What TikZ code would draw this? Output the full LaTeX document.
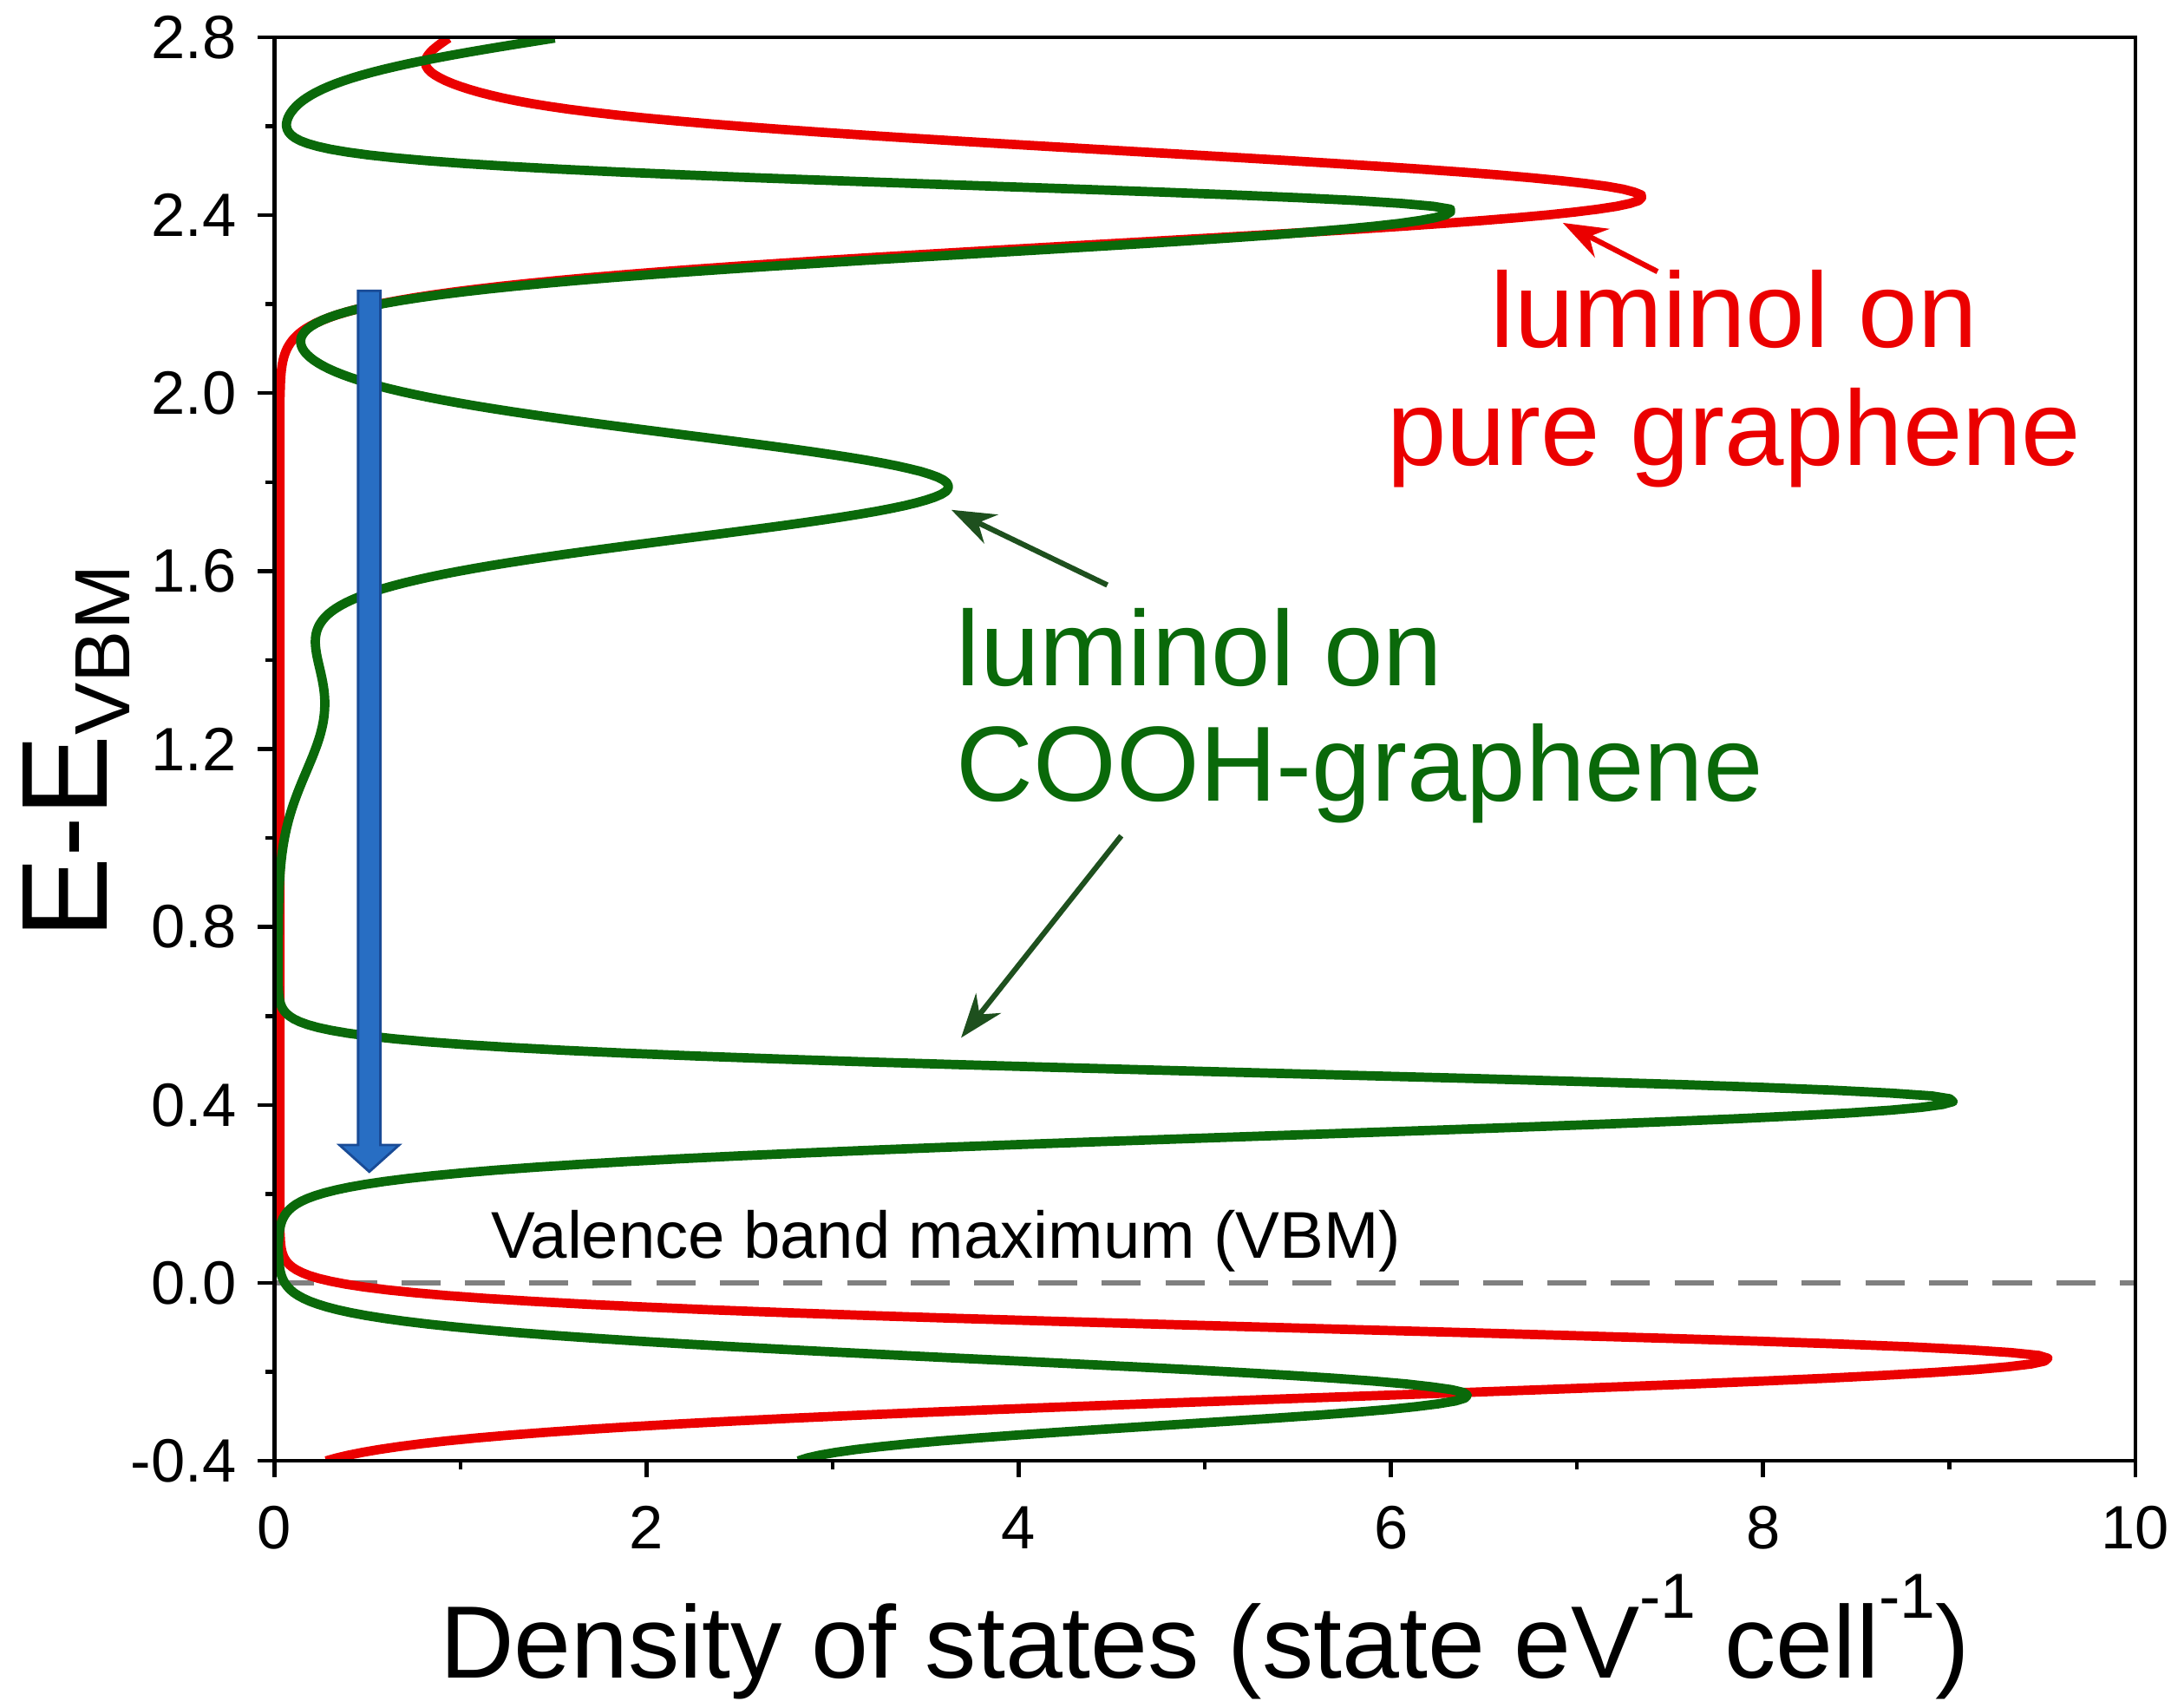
\documentclass[tikz,border=0pt]{standalone}
\usepackage{fontspec}
\setmainfont{Liberation Sans}
\usetikzlibrary{arrows.meta}
\definecolor{cred}{RGB}{235,0,0}
\definecolor{cgreen}{RGB}{10,105,10}
\definecolor{agreen}{RGB}{30,80,30}
\definecolor{cblue}{RGB}{40,110,195}
\definecolor{bedge}{RGB}{25,75,150}
\tikzset{
  curve/.style={line width=1.9pt,line join=round},
  lab/.style={font=\fontsize{21.8}{26}\selectfont,align=center,inner sep=0pt},
  tick/.style={font=\fontsize{12.5}{14}\selectfont,inner sep=0pt},
  ptr/.style={line width=1.1pt,-{Stealth[length=9pt,width=6.5pt]}},
  declare function={G(\t,\c,\w)=exp(-min(((\t-\c)*(\t-\c))/\w,40));}
}
\begin{document}
\begin{tikzpicture}
\useasboundingbox (0,0) rectangle (15.68,-12.21);
\begin{scope}[shift={(1.97,-9.21)},x=1.336cm,y=3.194cm]
 \begin{scope}
 \clip (0,-0.4) rectangle (10,2.8);
 \draw[gray,line width=1pt,dash pattern=on 8pt off 5pt] (0,0) -- (10,0);
 \draw[curve,cred] plot[samples=500,domain=-0.4:2.8,variable=\t]
  ({0.03+9.5*G(\t,-0.17,(\t<-0.17?0.0145:0.0085))+7.3*G(\t,2.44,0.022)+1.3*G(\t,2.95,0.06)+0.12*G(\t,2.68,0.003)},{\t});
 \draw[curve,cgreen] plot[samples=500,domain=-0.4:2.8,variable=\t]
  ({0.02+3*G(\t,-0.5,0.02)+6.25*G(\t,-0.25,0.0121)+9*G(\t,0.41,(\t<0.41?0.012:0.0072))+0.25*G(\t,1.3,0.045)+3.6*G(\t,1.79,0.0269)+6.3*G(\t,2.41,(\t<2.41?0.018:0.0061))+2.5*G(\t,2.9,0.02)},{\t});
 \end{scope}
 \draw[line width=0.8pt] (0,-0.4) rectangle (10,2.8);
 \foreach \v in {-0.4,-0.2,...,2.7}{\draw[line width=0.8pt] (0,\v) -- (-0.05,\v);}
 \foreach \v/\l in {-0.4/-0.4,0/0.0,0.4/0.4,0.8/0.8,1.2/1.2,1.6/1.6,2.0/2.0,2.4/2.4,2.8/2.8}{
   \draw[line width=0.8pt] (0,\v) -- (-0.09,\v);
   \node[tick,anchor=east] (y\l) at (-0.2,\v) {\l};}
 \foreach \v in {1,3,5,7,9}{\draw[line width=0.8pt] (\v,-0.4) -- (\v,-0.42);}
 \foreach \v in {0,2,4,6,8,10}{
   \draw[line width=0.8pt] (\v,-0.4) -- (\v,-0.437);
   \node[tick,anchor=north] (x\v) at (\v,-0.5) {\v};}
 \node[font=\fontsize{13.5}{16}\selectfont] (vbm) at (3.61,0.095) {Valence band maximum (VBM)};
 \fill[cblue,draw=bedge,line width=0.5pt] (0.45,2.23) -- (0.57,2.23) -- (0.57,0.31) -- (0.67,0.31) -- (0.51,0.25) -- (0.35,0.31) -- (0.45,0.31) -- cycle;
\end{scope}
\node[lab,text=cred] (red) at (12.45,-2.72) {luminol on\\[-2pt]pure graphene};
\node[lab,text=cgreen,anchor=west] (g1) at (6.86,-4.65) {luminol on};
\node[lab,text=cgreen,anchor=west] (g2) at (6.86,-5.55) {COOH-graphene};
\coordinate (ra) at (11.90,-1.95); \coordinate (rb) at (11.22,-1.60);
\coordinate (ga) at (7.95,-4.20); \coordinate (gb) at (6.83,-3.66);
\coordinate (gc) at (8.05,-6.00); \coordinate (gd) at (6.90,-7.45);
\draw[ptr,cred] (ra) -- (rb);
\draw[ptr,agreen] (ga) -- (gb);
\draw[ptr,agreen] (gc) -- (gd);
\node[font=\fontsize{21}{25}\selectfont] (xlab) at (8.65,-11.75) {Density of states (state eV\raisebox{1.1ex}{\fontsize{13}{14}\selectfont -1} cell\raisebox{1.1ex}{\fontsize{13}{14}\selectfont -1})};
\node[font=\fontsize{25}{30}\selectfont,rotate=90] (ylab) at (0.55,-5.4) {E-E\raisebox{-0.35ex}{\fontsize{16}{18}\selectfont VBM}};
\end{tikzpicture}
\end{document}
